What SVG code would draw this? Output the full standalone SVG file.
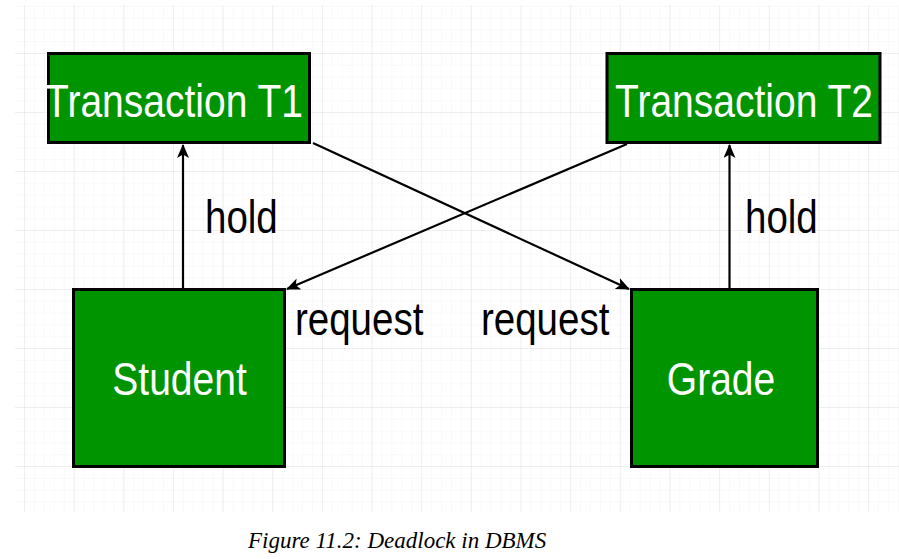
<svg xmlns="http://www.w3.org/2000/svg" width="899" height="559" viewBox="0 0 899 559">
<defs>
<pattern id="minor" x="24" y="-6" width="9.93" height="11.8" patternUnits="userSpaceOnUse">
<path d="M0,0 V11.8 M0,0 H9.93" fill="none" stroke="#f4f4f4" stroke-width="1"/>
</pattern>
<pattern id="major" x="24" y="-6" width="49.65" height="59" patternUnits="userSpaceOnUse">
<path d="M0,0 V59 M0,0 H49.65" fill="none" stroke="#e4e4e4" stroke-width="1"/>
</pattern>
<marker id="arr" viewBox="0 0 14 12" refX="13" refY="6" markerWidth="14" markerHeight="12" markerUnits="userSpaceOnUse" orient="auto">
<path d="M0,0 L14,6 L0,12 L3.5,6 Z" fill="#000"/>
</marker>
<style>
.box{fill:#009400;stroke:#000;stroke-width:3}
.lbl{font-family:"Liberation Sans",Arial,sans-serif;font-size:39px;fill:#fff;text-anchor:middle}
.edge{font-family:"Liberation Sans",Arial,sans-serif;font-size:38.5px;fill:#000}
.conn{fill:none;stroke:#000;stroke-width:2.2;marker-end:url(#arr)}
</style>
</defs>
<rect width="899" height="559" fill="#fff"/>
<rect x="15" y="5" width="884" height="507" fill="url(#minor)"/>
<rect x="15" y="5" width="884" height="507" fill="url(#major)"/>
<g id="connectors">
<line class="conn" x1="183" y1="288" x2="183" y2="145"/>
<line class="conn" x1="729.5" y1="288" x2="729.5" y2="145"/>
<line class="conn" x1="313" y1="143" x2="629" y2="289"/>
<line class="conn" x1="627" y1="144" x2="287" y2="289"/>
<text class="edge" transform="translate(205,233) scale(1,1.19)">hold</text>
<text class="edge" transform="translate(745,233) scale(1,1.19)">hold</text>
<text class="edge" transform="translate(295,335) scale(1,1.19)">request</text>
<text class="edge" transform="translate(481,335) scale(1,1.19)">request</text>
</g>
<g id="t1">
<rect class="box" x="48.5" y="53.5" width="261" height="89"/>
<text class="lbl" transform="translate(174,116.5) scale(1,1.19)">Transaction T1</text>
</g>
<g id="t2">
<rect class="box" x="607" y="53.5" width="273" height="89"/>
<text class="lbl" transform="translate(744,116.5) scale(1,1.19)">Transaction T2</text>
</g>
<g id="student">
<rect class="box" x="73.5" y="289.5" width="211" height="177"/>
<text class="lbl" transform="translate(179.5,395) scale(1,1.19)">Student</text>
</g>
<g id="grade">
<rect class="box" x="631.5" y="289.5" width="186" height="177"/>
<text class="lbl" transform="translate(721,395) scale(1,1.19)">Grade</text>
</g>
<text x="248" y="548" font-family="'Liberation Serif','Times New Roman',serif" font-style="italic" font-size="23" fill="#000">Figure 11.2: Deadlock in DBMS</text>
</svg>
